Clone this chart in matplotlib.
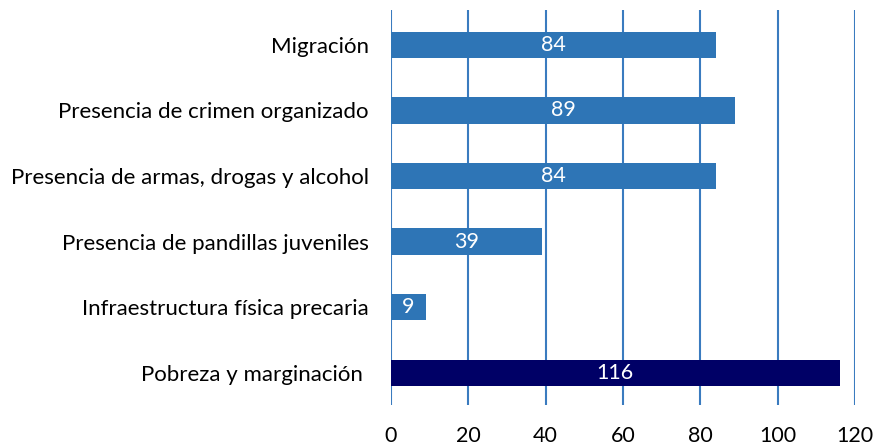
import matplotlib
matplotlib.use("Agg")
import matplotlib.pyplot as plt

categories = [
    "Pobreza y marginación ",
    "Infraestructura física precaria",
    "Presencia de pandillas juveniles",
    "Presencia de armas, drogas y alcohol",
    "Presencia de crimen organizado",
    "Migración",
]
values = [116, 9, 39, 84, 89, 84]
colors = ["#000066", "#2E75B6", "#2E75B6", "#2E75B6", "#2E75B6", "#2E75B6"]
xticks = [0, 20, 40, 60, 80, 100, 120]

plt.rcParams["font.family"] = ["Lato", "DejaVu Sans"]

fig = plt.figure(figsize=(8.76, 4.47), dpi=100)
ax = fig.add_axes([0.4463, 0.094, 0.976 - 0.4463, 0.9776 - 0.094])

ypos = list(range(len(categories)))
ax.barh(ypos, values, height=0.4, color=colors, zorder=3)
for y, v in zip(ypos, values):
    ax.text(v / 2, y, str(v), ha="center", va="center", color="white",
            fontsize=15.5, zorder=4)

ax.set_xlim(0, 120)
ax.set_ylim(-0.49, 5.53)
ax.set_xticks(xticks)
ax.set_xticklabels([str(t) for t in xticks])
ax.set_yticks(ypos)
ax.set_yticklabels(categories)
ax.xaxis.grid(True, color="#3A7BBF", linewidth=1.5, zorder=0)
ax.tick_params(axis="x", length=0, pad=15, labelsize=15.5)
ax.tick_params(axis="y", length=0, pad=16, labelsize=16)
for s in ax.spines.values():
    s.set_visible(False)

fig.savefig("out.png", dpi=100)
